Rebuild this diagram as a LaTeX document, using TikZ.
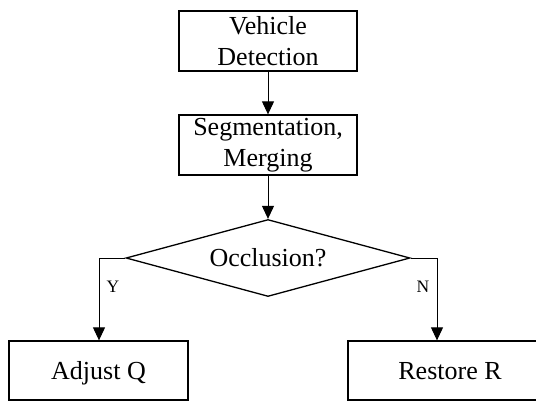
\documentclass[tikz,border=0pt]{standalone}
\usepackage{fontspec}
\setmainfont{Liberation Serif}
\usetikzlibrary{shapes.geometric,arrows.meta}
\begin{document}
\begin{tikzpicture}[x=1pt,y=-1pt,
  box/.style={draw,line width=1.3pt,inner sep=0pt,align=center,
    font=\fontsize{26}{31}\selectfont},
  oneline/.style={text height=17.2pt,text depth=0pt},
  decision/.style={draw,diamond,line width=1.3pt,inner sep=0pt,
    shape aspect=3.69,font=\fontsize{26}{31}\selectfont,
    text height=17.2pt,text depth=0pt,
    minimum width=284pt,minimum height=77pt},
  flow/.style={line width=1pt,-{Triangle[length=13pt,width=12pt]}},
  tag/.style={font=\fontsize{17.5}{18}\selectfont}]
\useasboundingbox (0,0) rectangle (536,402);
\clip (0,0) rectangle (536,402);
\node[box,minimum width=178pt,minimum height=60pt] (detect) at (268,41)
  {Vehicle\\Detection};
\node[box,minimum width=178pt,minimum height=60pt] (merge) at (268,145)
  {Segmentation,\\Merging};
\node[decision] (occ) at (268,258) {Occlusion?};
\node[box,oneline,minimum width=179pt,minimum height=59pt] (adjust) at (98.5,370.5)
  {Adjust Q};
\node[box,oneline,minimum width=204pt,minimum height=59pt] (restore) at (450,370.5)
  {Restore R};
\draw[flow] (detect) -- (merge);
\draw[flow] (merge) -- (occ.north);
\draw[flow] (occ.west) -| ([xshift=0.5pt]adjust.north);
\draw[flow] (occ.east) -| ([xshift=-13pt]restore.north);
\node[tag] (yes) at (113,287) {Y};
\node[tag] (no) at (423,287) {N};
\end{tikzpicture}
\end{document}
